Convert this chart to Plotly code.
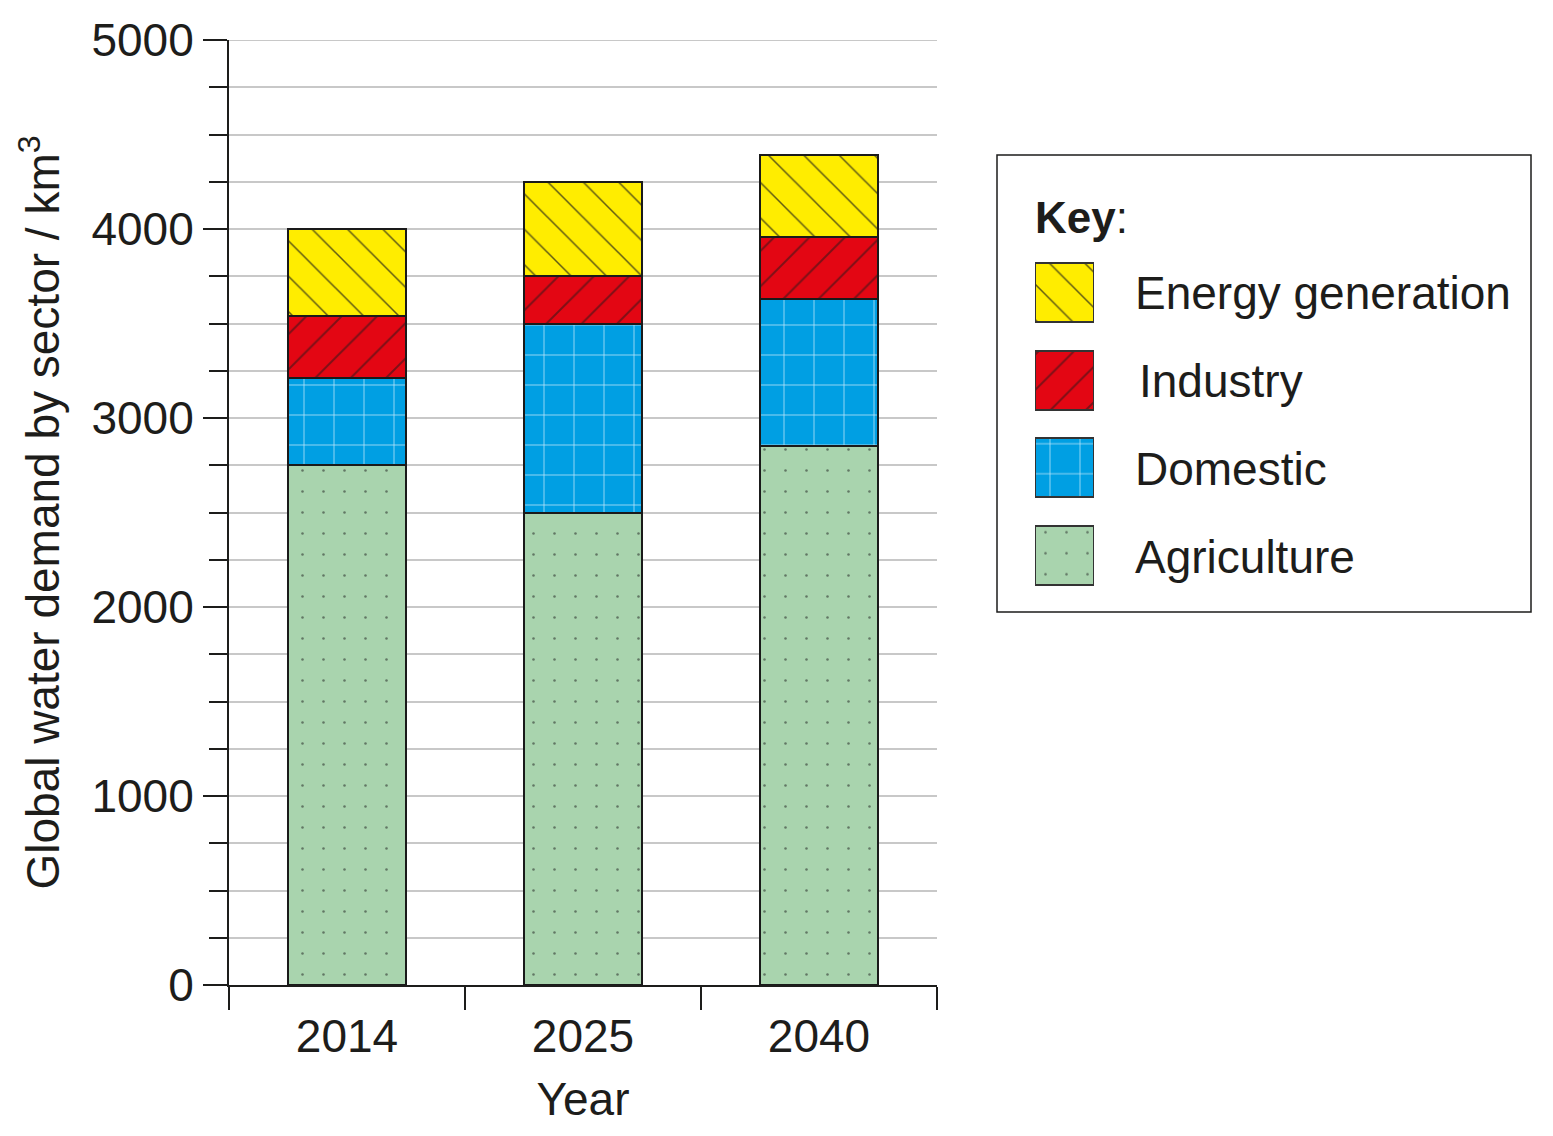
import plotly.graph_objects as go

# ---- data ----
years = ["2014", "2025", "2040"]
sectors = ["Agriculture", "Domestic", "Industry", "Energy generation"]
agriculture = [2750, 2500, 2850]
domestic = [460, 1000, 780]
industry = [330, 250, 330]
energy = [460, 500, 430]

y_ticks = [0, 1000, 2000, 3000, 4000, 5000]
y_max = 5000

# ---- styles ----
FONT = "Liberation Sans, Arial, Helvetica, sans-serif"
FS = 46
colors = {
    "Agriculture": "#A9D4AE",
    "Domestic": "#009FE3",
    "Industry": "#E30613",
    "Energy generation": "#FFED00",
}
patterns = {
    "Agriculture": dict(shape=".", fgcolor="#1a1a1a", size=21, solidity=0.012),
    "Domestic": dict(shape="+", fgcolor="#ffffff", size=30, solidity=0.05, fgopacity=0.75),
    "Industry": dict(shape="/", fgcolor="#1a1a1a", size=25, solidity=0.08),
    "Energy generation": dict(shape="\\", fgcolor="#1a1a1a", size=25, solidity=0.06, fgopacity=0.7),
}
series = {
    "Agriculture": agriculture,
    "Domestic": domestic,
    "Industry": industry,
    "Energy generation": energy,
}

W, H = 1553, 1136
ML, MR, MT, MB = 229, 20, 40, 151
PW = W - ML - MR
PH = H - MT - MB


def px_x(x):
    return (x - ML) / PW


def px_y(y):
    return (H - MB - y) / PH


fig = go.Figure()

for s in sectors:
    fig.add_trace(go.Bar(
        x=years, y=series[s], name=s, showlegend=False,
        width=0.5,
        marker=dict(color=colors[s], pattern=patterns[s],
                    line=dict(color="#1a1a1a", width=2.4)),
        hoverinfo="x+y+name",
    ))

# key swatches drawn as bars on their own small axes
key_order = ["Energy generation", "Industry", "Domestic", "Agriculture"]
for i, s in enumerate(key_order):
    fig.add_trace(go.Bar(
        x=[1], y=[i], orientation="h", base=0, width=0.67,
        xaxis="x2", yaxis="y2", showlegend=False, hoverinfo="skip",
        marker=dict(color=colors[s], pattern=patterns[s],
                    line=dict(color="#333333", width=2)),
    ))

fig.update_layout(
    width=W, height=H,
    margin=dict(l=ML, r=MR, t=MT, b=MB),
    paper_bgcolor="white", plot_bgcolor="white",
    barmode="stack",
    font=dict(family=FONT, size=FS, color="#1d1d1b"),
    xaxis=dict(
        domain=[0, px_x(937)],
        type="category", range=[-0.5, 2.5],
        tickson="boundaries", ticks="outside", ticklen=23, tickwidth=2,
        tickcolor="#1d1d1b", ticklabelstandoff=10,
        showline=True, linecolor="#1d1d1b", linewidth=2,
        showgrid=False, zeroline=False,
        tickfont=dict(size=FS),
        title=dict(text="Year", font=dict(size=FS), standoff=22),
    ),
    yaxis=dict(
        range=[0, y_max], tickvals=y_ticks,
        ticks="outside", ticklen=24, tickwidth=2, tickcolor="#1d1d1b",
        showline=True, linecolor="#1d1d1b", linewidth=2,
        showgrid=True, gridcolor="#c8c8c8", gridwidth=2,
        zeroline=False,
        minor=dict(dtick=250, ticks="outside", ticklen=18, tickwidth=2,
                   tickcolor="#1d1d1b", showgrid=True,
                   gridcolor="#c8c8c8", gridwidth=2),
        tickfont=dict(size=FS),
        title=dict(text="Global water demand by sector / km<sup>3</sup>",
                   font=dict(size=FS), standoff=17),
    ),
    xaxis2=dict(domain=[px_x(1035), px_x(1094)], range=[0, 1],
                anchor="y2", visible=False, fixedrange=True),
    yaxis2=dict(domain=[px_y(598.75), px_y(248.75)], range=[3.5, -0.5],
                anchor="x2", visible=False, fixedrange=True),
    bargap=0,
)

# top gridline (plotly omits the grid at the range edge)
fig.add_shape(type="line", xref="x domain", yref="y", x0=0, x1=1,
              y0=y_max, y1=y_max, line=dict(color="#c8c8c8", width=2),
              layer="below")

# key box
fig.add_shape(type="rect", xref="paper", yref="paper",
              x0=px_x(997), x1=px_x(1531), y0=px_y(612), y1=px_y(155),
              line=dict(color="#1d1d1b", width=1.5), fillcolor="rgba(0,0,0,0)")

fig.add_annotation(xref="paper", yref="paper", x=px_x(1033), y=px_y(217),
                   xanchor="left", yanchor="middle", showarrow=False,
                   text="<b>Key</b>:", font=dict(size=44))
label_x = [1133, 1137, 1133, 1133]
label_y = [293, 381, 469, 557]
for s, lx, ly in zip(key_order, label_x, label_y):
    fig.add_annotation(xref="paper", yref="paper", x=px_x(lx), y=px_y(ly),
                       xanchor="left", yanchor="middle", showarrow=False,
                       text=s, font=dict(size=FS))

fig.write_html("out.html")
